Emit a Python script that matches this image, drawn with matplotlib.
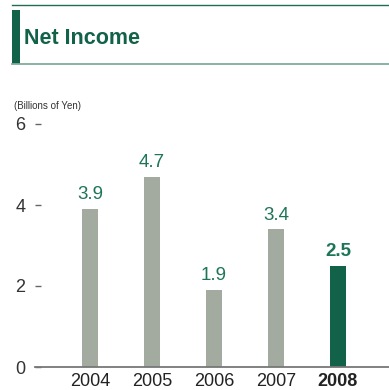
import matplotlib
matplotlib.use("Agg")
import matplotlib.pyplot as plt
from matplotlib.lines import Line2D
from matplotlib.patches import Rectangle

plt.rcParams['font.family'] = ['Liberation Sans', 'DejaVu Sans']

years = ['2004', '2005', '2006', '2007', '2008']
net_income = [3.9, 4.7, 1.9, 3.4, 2.5]
value_labels = ['3.9', '4.7', '1.9', '3.4', '2.5']
yticks = [0, 2, 4, 6]

W, H = 389, 390
fig = plt.figure(figsize=(W / 100, H / 100), dpi=100)

grey = '#a3aa9f'
green = '#12624a'
label_green = '#1d7556'

# Header
fig.add_artist(Line2D([12 / W, 1], [1 - 4.5 / H, 1 - 4.5 / H], color='#1f6e52', lw=1.0))
fig.add_artist(Line2D([12 / W, 1], [1 - 64 / H, 1 - 64 / H], color='#7fae98', lw=1.3))
fig.add_artist(Rectangle((12 / W, 1 - 64 / H), 8 / W, 54 / H, color=green, lw=0))
fig.text(23.5 / W, 1 - 38.5 / H, 'Net Income', fontsize=15.5, fontweight='bold',
         color=green, va='center', ha='left')

# Axes
left, right = 35, 389
bottom, top = 367, 124
ax = fig.add_axes([left / W, 1 - bottom / H, (right - left) / W, (bottom - top) / H])
colors = [grey] * 4 + [green]
x = list(range(len(years)))
ax.bar(x, net_income, width=0.26, color=colors, zorder=2)
ax.set_xlim((35 - 90) / 62, (389 - 90) / 62)
ax.set_ylim(0, 6)

for i, (v, lab) in enumerate(zip(net_income, value_labels)):
    ax.annotate(lab, (i, v), xytext=(0, 4), textcoords='offset points',
                ha='center', va='bottom', fontsize=13.5, color=label_green,
                fontweight='bold' if i == len(years) - 1 else 'normal')

for s in ['top', 'right', 'left']:
    ax.spines[s].set_visible(False)
ax.spines['bottom'].set_color('#777777')
ax.spines['bottom'].set_linewidth(1.3)
ax.spines['bottom'].set_zorder(3)

ax.set_yticks(yticks)
ax.set_yticklabels([str(t) for t in yticks])
ax.tick_params(axis='y', direction='in', length=4, width=1, color='#666666',
               pad=7, labelsize=13, labelcolor='#333333')
ax.set_xticks(x)
ax.set_xticklabels(years)
ax.tick_params(axis='x', length=0, pad=4.5, labelsize=13, labelcolor='#222222')
ax.get_xticklabels()[-1].set_fontweight('bold')

fig.text(14 / W, 1 - 106 / H, '(Billions of Yen)', fontsize=7, color='#333333',
         va='center', ha='left')

fig.savefig('out.png', dpi=100)
